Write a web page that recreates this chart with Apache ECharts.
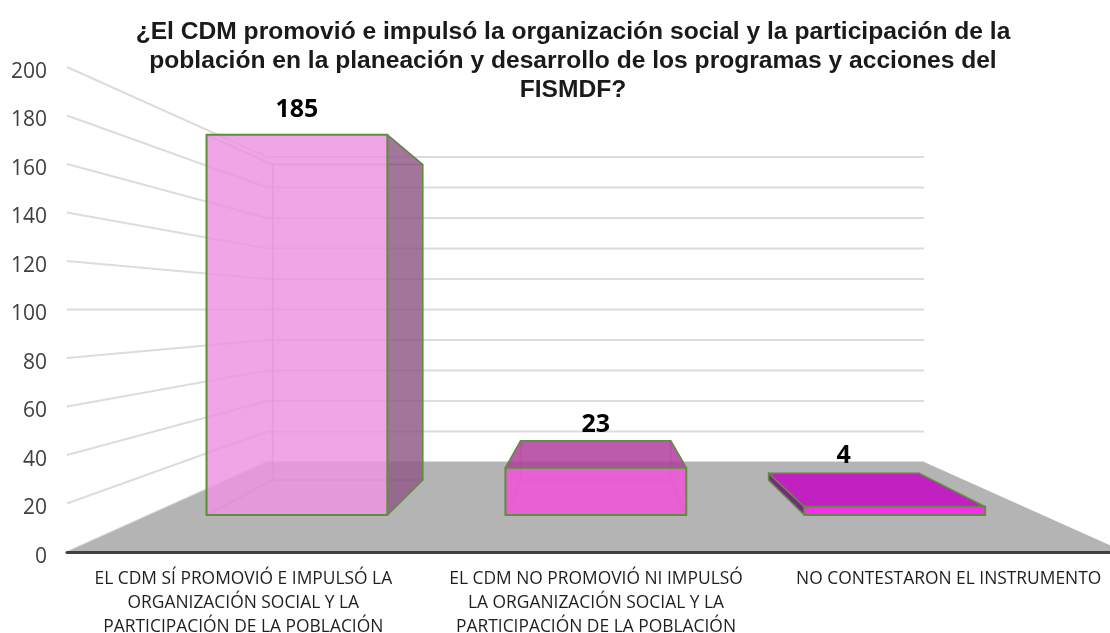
<!DOCTYPE html>
<html><head><meta charset="utf-8">
<style>html,body{margin:0;padding:0;background:#fff;overflow:hidden}#c{width:1110px;height:633px}</style>
<script src="https://cdn.jsdelivr.net/npm/echarts@6/dist/echarts.min.js"></script>
</head><body><div id="c"></div>
<script>
var titleText = '¿El CDM promovió e impulsó la organización social y la participación de la\npoblación en la planeación y desarrollo de los programas y acciones del\nFISMDF?';
var categories = [
  'EL CDM SÍ PROMOVIÓ E IMPULSÓ LA\nORGANIZACIÓN SOCIAL Y LA\nPARTICIPACIÓN DE LA POBLACIÓN',
  'EL CDM NO PROMOVIÓ NI IMPULSÓ\nLA ORGANIZACIÓN SOCIAL Y LA\nPARTICIPACIÓN DE LA POBLACIÓN',
  'NO CONTESTARON EL INSTRUMENTO'
];
var values = [185, 23, 4];
var yTicks = [0, 20, 40, 60, 80, 100, 120, 140, 160, 180, 200];

var frontColors = ['rgba(237,148,225,0.84)', 'rgba(241,84,216,0.86)', 'rgba(250,40,238,0.97)'];
var topColors   = ['rgba(237,148,225,0.04)', 'rgba(176,62,157,0.85)', 'rgba(192,28,192,0.97)'];
var sideColors  = ['rgba(144,91,135,0.84)', 'rgba(144,91,135,0.84)', 'rgba(122,31,133,0.97)'];
var labelLift = [25, 16, 17];

// perspective of the 3D box
var VX = 595, VY = 309.4;
var WALL_S = 0.629, WALL_SX = 0.621, BAR_FRONT_S = 0.8475, BAR_BACK_S = 0.703, BAR_WIDTH = 0.605;
var EDGE = '#5e8f3e', FAINT = 'rgba(95,70,95,0.13)';

function proj(p, s, sx) {
  return [VX + (p[0] - VX) * (sx === undefined ? s : sx), VY + (p[1] - VY) * s];
}
function poly(points, fill, stroke, w) {
  return {type: 'polygon', shape: {points: points},
    style: {fill: fill, stroke: stroke, lineWidth: w, lineJoin: 'round'}};
}

var chart = echarts.init(document.getElementById('c'), null, {renderer: 'canvas'});
chart.setOption({
  animation: false,
  backgroundColor: '#fff',
  title: {
    text: titleText, left: 568, top: 13, textAlign: 'center',
    textStyle: {fontFamily: 'Liberation Sans', fontWeight: 'bold', fontSize: 24.6, lineHeight: 29, color: '#1a1a1a'}
  },
  grid: {left: 67, right: -15, top: 67, bottom: 81, containLabel: false, outerBoundsMode: 'none'},
  xAxis: {
    type: 'category', data: categories, z: 5,
    axisLine: {show: true, lineStyle: {color: '#404040', width: 3}},
    axisTick: {show: false}, splitLine: {show: false},
    axisLabel: {
      interval: 0, margin: 15, color: '#1f1f1f', fontFamily: 'Open Sans', fontSize: 17.4, lineHeight: 24,
      verticalAlign: 'top'
    }
  },
  yAxis: {
    type: 'value', min: 0, max: 200, interval: 20,
    axisLine: {show: false}, axisTick: {show: false}, splitLine: {show: false},
    axisLabel: {margin: 20, color: '#404040', fontFamily: 'Open Sans', fontSize: 21, verticalAlign: 'top', lineHeight: 10}
  },
  series: [
    { // walls' grid lines
      type: 'custom', coordinateSystem: 'cartesian2d', silent: true, z: 1,
      data: yTicks.map(function (t) { return [0, t]; }),
      encode: {x: 0, y: 1},
      renderItem: function (params, api) {
        var y = api.coord([0, api.value(1)])[1], cs = params.coordSys;
        var a = [cs.x, y], b = proj(a, WALL_S, WALL_SX), c = proj([cs.x + cs.width, y], WALL_S, WALL_SX);
        return {type: 'polyline', shape: {points: [a, b, c]},
          style: {stroke: '#dcdcdc', lineWidth: 2, fill: null}};
      }
    },
    { // floor
      type: 'custom', coordinateSystem: 'cartesian2d', silent: true, z: 2,
      data: [[0, 0]], encode: {x: 0, y: 1},
      renderItem: function (params, api) {
        var y = api.coord([0, 0])[1], cs = params.coordSys;
        var a = [cs.x, y], d = [cs.x + cs.width, y];
        return poly([a, d, proj(d, WALL_S, WALL_SX), proj(a, WALL_S, WALL_SX)], '#b4b4b4');
      }
    },
    { // bars
      type: 'custom', coordinateSystem: 'cartesian2d', silent: true, z: 3,
      data: values.map(function (v, i) { return [i, v]; }),
      encode: {x: 0, y: 1},
      renderItem: function (params, api) {
        var i = api.value(0), v = api.value(1);
        var c0 = api.coord([i, 0]), c1 = api.coord([i, v]);
        var hw = api.size([1, 0])[0] * BAR_WIDTH / 2;
        var P = function (x, y, s) { return proj([x, y], s); };
        var l = c0[0] - hw, r = c0[0] + hw, y0 = c0[1], y1 = c1[1];
        var F = BAR_FRONT_S, B = BAR_BACK_S;
        var fl0 = P(l, y0, F), fr0 = P(r, y0, F), fl1 = P(l, y1, F), fr1 = P(r, y1, F);
        var bl0 = P(l, y0, B), br0 = P(r, y0, B), bl1 = P(l, y1, B), br1 = P(r, y1, B);
        var topVis = fl1[1] > bl1[1], leftVis = fl0[0] > bl0[0], rightVis = fr0[0] < br0[0];
        var fc = frontColors[i];
        var kids = [
          poly([bl0, br0, br1, bl1], 'rgba(160,80,150,0.03)', FAINT, 2),
          poly([fl0, fr0, br0, bl0], 'rgba(160,80,150,0.03)', FAINT, 2),
          poly([fl0, fl1, bl1, bl0], leftVis ? sideColors[i] : 'rgba(160,80,150,0.03)', leftVis ? EDGE : FAINT, leftVis ? 1.5 : 2),
          poly([fr0, fr1, br1, br0], rightVis ? sideColors[i] : 'rgba(160,80,150,0.03)', rightVis ? EDGE : FAINT, rightVis ? 1.5 : 2),
          poly([fl1, fr1, br1, bl1], topColors[i], topVis ? EDGE : FAINT, topVis ? 1.5 : 2),
          poly([fl0, fr0, fr1, fl1], fc, EDGE, 2)
        ];
        var tl = topVis ? bl1 : fl1, tr = topVis ? br1 : fr1;
        kids.push({type: 'text', style: {
          text: String(v), x: (tl[0] + tr[0]) / 2, y: tl[1] - labelLift[i],
          align: 'center', verticalAlign: 'middle',
          fontFamily: 'Open Sans', fontWeight: 'bold', fontSize: 25, fill: '#000'
        }});
        return {type: 'group', children: kids};
      }
    }
  ]
});
</script></body></html>
